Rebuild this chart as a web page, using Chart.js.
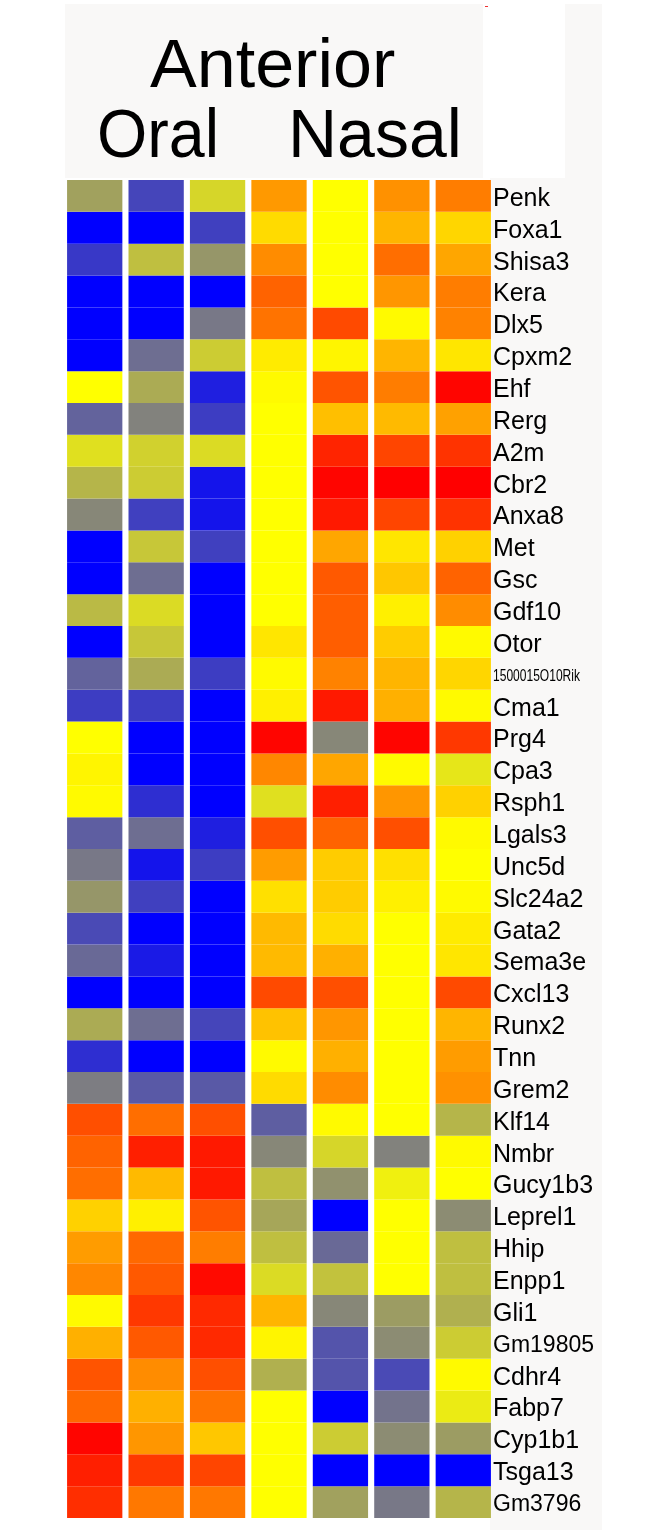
<!DOCTYPE html>
<html><head><meta charset="utf-8">
<script src="https://cdn.jsdelivr.net/npm/chart.js@4/dist/chart.umd.min.js"></script>
<style>html,body{margin:0;padding:0;background:#fff;overflow:hidden}canvas{display:block}</style>
</head><body>
<div style="position:relative;width:666px;height:1535px"><canvas id="c" width="666" height="1535"></canvas></div>
<script>
const genes = ['Penk','Foxa1','Shisa3','Kera','Dlx5','Cpxm2','Ehf','Rerg','A2m','Cbr2','Anxa8','Met','Gsc','Gdf10','Otor','1500015O10Rik','Cma1','Prg4','Cpa3','Rsph1','Lgals3','Unc5d','Slc24a2','Gata2','Sema3e','Cxcl13','Runx2','Tnn','Grem2','Klf14','Nmbr','Gucy1b3','Leprel1','Hhip','Enpp1','Gli1','Gm19805','Cdhr4','Fabp7','Cyp1b1','Tsga13','Gm3796'];
const columns = ['Oral 1','Oral 2','Oral 3','Nasal 1','Nasal 2','Nasal 3','Nasal 4'];
const titleTop = 'Anterior';
const groupLabels = ['Oral','Nasal'];
// expression values: -10 = blue (low), 0 = yellow, +10 = red (high)
const oral1 = [-3.7,-10,-7.8,-10,-10,-10,0,-6.1,-1.2,-2.9,-4.7,-10,-10,-2.7,-10,-6.1,-7.6,0,0.4,0.2,-6.3,-5.3,-4.1,-7.1,-5.9,-10,-3.3,-8.2,-5.1,6.9,6.1,5.7,1.8,3.9,4.7,0.2,3.1,6.7,5.9,9.8,8.8,8.2];
const oral2 = [-7.3,-10,-2.5,-10,-10,-5.7,-3.3,-4.9,-1.8,-2,-7.5,-2.2,-5.7,-1.4,-2.2,-3.3,-7.6,-10,-10,-8.2,-5.7,-9.2,-7.5,-10,-9,-10,-5.7,-10,-6.5,5.7,8.8,2.7,0.6,5.9,6.5,7.8,6.5,4.5,3.1,4.1,7.8,5.3];
const oral3 = [-1.6,-7.5,-4.1,-10,-5.3,-2,-8.8,-7.6,-1.4,-9.2,-9.2,-7.5,-10,-10,-10,-7.6,-10,-10,-10,-10,-8.8,-7.6,-10,-10,-10,-10,-7.3,-10,-6.5,6.9,9,9,6.7,5.1,9.6,8.4,8.4,6.9,5.5,2.2,7.3,5.3];
const nasal1 = [4,1.4,4.5,6.1,5.5,0.8,0.2,0,0,0,0,0,0,0,1,0.2,0.6,9.8,4.7,-1.2,6.9,3.9,1.2,2.7,2.7,7.1,2.4,0.2,1.4,-6.3,-4.7,-2.5,-3.5,-2.5,-1.4,2.9,0.4,-3.1,0,0,0,0];
const nasal2 = [0,0,0,0,7.1,0.4,6.7,2.5,8.6,9.8,9,3.5,6.5,6.3,6.3,4.9,9,-4.7,3.5,8.8,6.1,2,2,1.4,3.1,6.9,4.1,3.1,4.5,0.2,-1.6,-4.3,-10,-5.9,-2.4,-4.7,-6.7,-6.7,-10,-2,-10,-3.7];
const nasal3 = [4.3,2.9,5.7,4.1,0.2,2.9,5.1,2.7,7.3,10,7.3,1,2.2,0.6,2,2.9,3.1,9.8,0.2,4.1,6.9,1.2,0.6,0,0,0,0,0,0,0,-4.9,-0.6,0,0,0,-3.9,-4.5,-7.1,-5.5,-4.5,-10,-5.3];
const nasal4 = [5.1,1.6,3.5,5.1,4.9,1,9.8,3.7,8,10,8,1.8,6.1,4.5,0.2,1.6,0.2,7.8,-1,1.8,0.2,0,0.2,0.8,1,7.1,2.9,3.9,4.3,-2.9,0.2,0,-4.5,-2.5,-2.5,-3.1,-2,0.2,-0.8,-3.9,-10,-2.9];
const colValues = [oral1, oral2, oral3, nasal1, nasal2, nasal3, nasal4];

function heatColor(v){
  let r,g,b;
  if (v < 0){ const t = (v + 10) / 10; r = 255*t; g = 255*t; b = 255*(1-t); }
  else { const t = v / 10; r = 255; g = 255*(1-t); b = 0; }
  return 'rgb(' + Math.round(r) + ',' + Math.round(g) + ',' + Math.round(b) + ')';
}

const datasets = genes.map((g, i) => ({
  label: g,
  data: columns.map(() => 1),
  backgroundColor: colValues.map(col => heatColor(col[i])),
  borderWidth: 0,
  barPercentage: 1,
  categoryPercentage: 0.9,
  stack: 'heat'
}));

function drawScaled(ctx, text, x, y, sx){
  ctx.save();
  ctx.translate(x, y);
  ctx.scale(sx, 1);
  ctx.fillText(text, 0, 0);
  ctx.restore();
}

const decor = {
  id: 'decor',
  beforeDraw(chart){
    const ctx = chart.ctx;
    ctx.save();
    ctx.fillStyle = '#ffffff';
    ctx.fillRect(0,0,chart.width,chart.height);
    ctx.fillStyle = '#f9f8f7';
    ctx.fillRect(65,4,418,174);
    ctx.fillRect(565,4,37,174);
    ctx.fillRect(490,178,112,1352);
    ctx.fillStyle = '#e33';
    ctx.fillRect(485,6,3,1);
    ctx.fillStyle = '#000';
    ctx.font = '68px "Liberation Sans", Arial, sans-serif';
    ctx.textBaseline = 'alphabetic';
    ctx.textAlign = 'left';
    drawScaled(ctx, titleTop, 150, 87, 1.03);
    drawScaled(ctx, groupLabels[0], 97, 157, 0.95);
    drawScaled(ctx, groupLabels[1], 288, 157, 1.0);
    ctx.restore();
  },
  afterDraw(chart){
    const ctx = chart.ctx;
    const ys = chart.scales.y;
    ctx.save();
    ctx.fillStyle = '#000';
    ctx.textBaseline = 'middle';
    ctx.textAlign = 'left';
    genes.forEach((g, i) => {
      const y = ys.getPixelForValue(i + 0.5) + 3;
      const x = 493;
      if (g === '1500015O10Rik'){
        ctx.font = '17px "Liberation Sans", Arial, sans-serif';
        const w = ctx.measureText(g).width;
        drawScaled(ctx, g, x, y, 87 / w);
      } else {
        ctx.font = (g.startsWith('Gm') ? '23px' : '25px') + ' "Liberation Sans", Arial, sans-serif';
        ctx.fillText(g, x, y);
      }
    });
    ctx.restore();
  }
};

new Chart(document.getElementById('c'), {
  type: 'bar',
  data: { labels: columns, datasets },
  options: {
    responsive: false,
    devicePixelRatio: 1,
    animation: false,
    layout: { padding: { left: 64, right: 172, top: 180, bottom: 17 } },
    plugins: { legend: { display: false }, tooltip: { enabled: false }, title: { display: false } },
    scales: {
      x: { display: false, stacked: true, grid: { display: false } },
      y: { display: false, stacked: true, reverse: true, min: 0, max: genes.length, grid: { display: false } }
    }
  },
  plugins: [decor]
});
</script>
</body></html>
